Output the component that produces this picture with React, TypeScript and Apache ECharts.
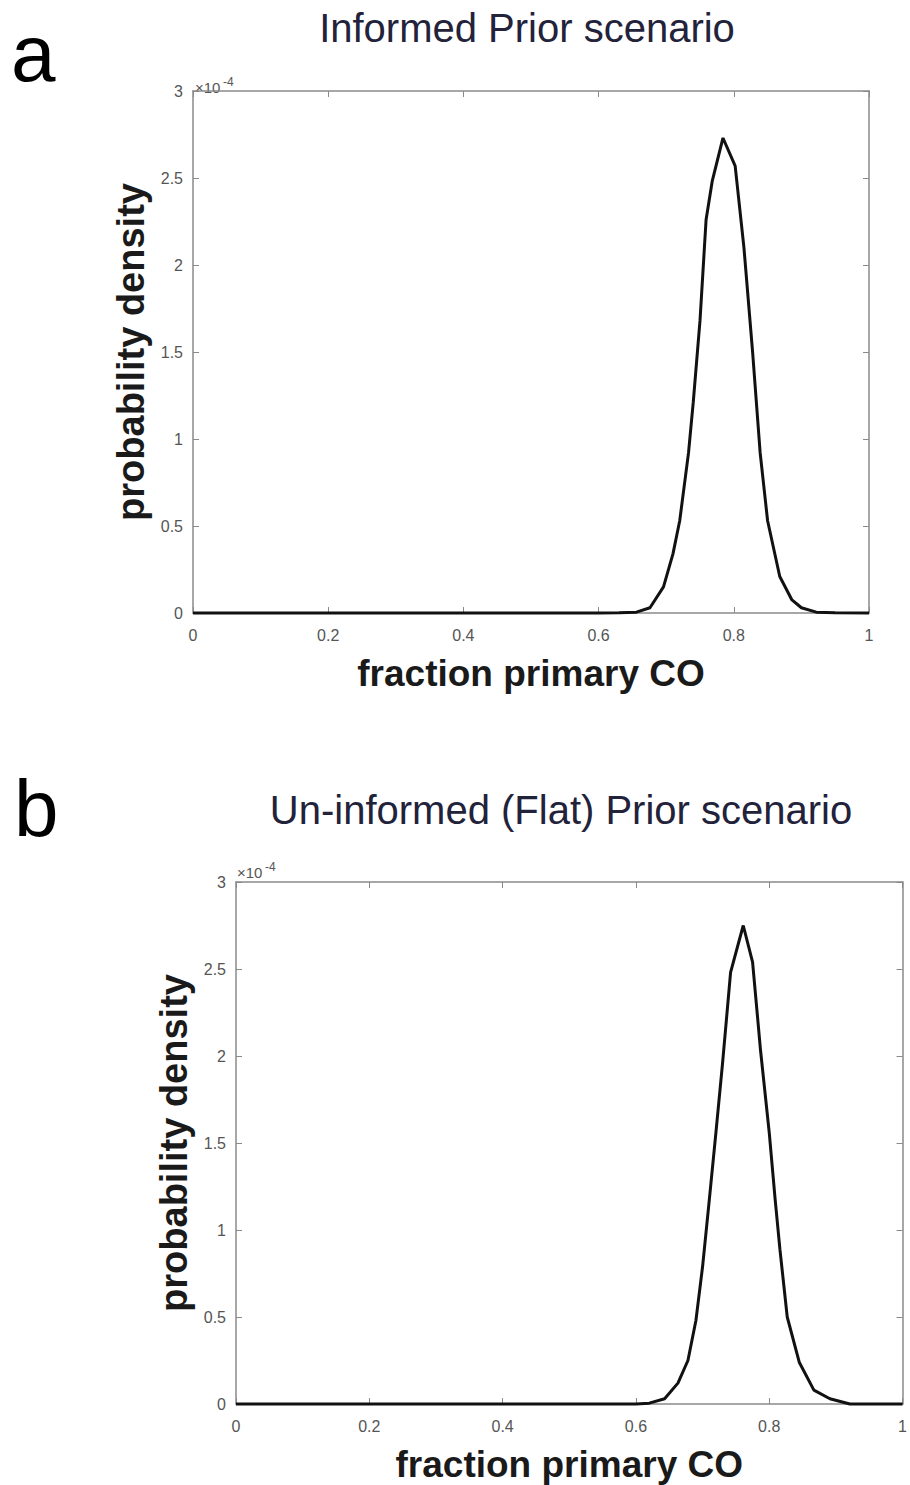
import React, { useEffect, useRef } from "react";
import * as echarts from "echarts";

// Panel a: Informed Prior scenario (x = fraction primary CO, y in units of 1e-4)
const topX = [0, 0.2, 0.4, 0.6, 0.63, 0.656, 0.676, 0.696, 0.71, 0.72, 0.733, 0.74, 0.75, 0.759, 0.768, 0.784, 0.802, 0.815, 0.828, 0.839, 0.85, 0.868, 0.886, 0.9, 0.922, 0.95, 1];
const topY = [0, 0, 0, 0, 0.001, 0.005, 0.03, 0.15, 0.34, 0.53, 0.92, 1.21, 1.68, 2.26, 2.48, 2.73, 2.57, 2.1, 1.49, 0.92, 0.53, 0.21, 0.075, 0.03, 0.005, 0.001, 0];

// Panel b: Un-informed (Flat) Prior scenario
const botX = [0, 0.2, 0.4, 0.6, 0.62, 0.643, 0.663, 0.678, 0.69, 0.7, 0.71, 0.72, 0.73, 0.742, 0.761, 0.775, 0.787, 0.8, 0.809, 0.816, 0.827, 0.845, 0.867, 0.891, 0.921, 1];
const botY = [0, 0, 0, 0, 0.005, 0.03, 0.12, 0.25, 0.48, 0.79, 1.17, 1.56, 1.96, 2.48, 2.75, 2.54, 2.03, 1.56, 1.17, 0.89, 0.5, 0.24, 0.08, 0.03, 0, 0];

const titles = ["Informed Prior scenario", "Un-informed (Flat) Prior scenario"];
const panelLabels = ["a", "b"];
const xName = "fraction primary CO";
const yName = "probability density";
const xTicks = { min: 0, max: 1, interval: 0.2 };
const yTicks = { min: 0, max: 3, interval: 0.5 };
const expText = "×10";
const expSup = "-4";

const FONT = "'Liberation Sans', Arial, sans-serif";
const AXIS_COLOR = "#8a8a8a";
const LABEL_COLOR = "#555";

export default function App() {
  const ref = useRef<HTMLDivElement>(null);
  useEffect(() => {
    if (!ref.current) return;
    const chart = echarts.init(ref.current, null, { renderer: "svg" });
    const grids = [
      { left: 193, top: 91, width: 676, height: 522 },
      { left: 236, top: 882, width: 670, height: 522 },
    ];
    const xAxes: any[] = [];
    const yAxes: any[] = [];
    grids.forEach((_, i) => {
      xAxes.push({
        type: "value", gridIndex: i, position: "bottom", ...xTicks,
        name: xName, nameLocation: "middle", nameGap: 42,
        nameTextStyle: { fontFamily: FONT, fontSize: 37, fontWeight: "bold", color: "#1a1a1a" },
        axisLine: { show: true, onZero: false, lineStyle: { color: AXIS_COLOR, width: 1.5 } },
        axisTick: { show: true, inside: true, length: 6, lineStyle: { color: AXIS_COLOR } },
        axisLabel: { fontFamily: FONT, fontSize: 16, color: LABEL_COLOR, margin: 14 },
        splitLine: { show: false },
      });
      xAxes.push({
        type: "value", gridIndex: i, position: "top", ...xTicks,
        axisLine: { show: true, onZero: false, lineStyle: { color: AXIS_COLOR, width: 1.5 } },
        axisTick: { show: true, inside: true, length: 6, lineStyle: { color: AXIS_COLOR } },
        axisLabel: { show: false },
        splitLine: { show: false },
      });
      yAxes.push({
        type: "value", gridIndex: i, position: "left", ...yTicks,
        name: yName, nameLocation: "middle", nameGap: 42, nameRotate: 90,
        nameTextStyle: { fontFamily: FONT, fontSize: 38, fontWeight: "bold", color: "#1a1a1a" },
        axisLine: { show: true, onZero: false, lineStyle: { color: AXIS_COLOR, width: 1.5 } },
        axisTick: { show: true, inside: true, length: 6, lineStyle: { color: AXIS_COLOR } },
        axisLabel: { fontFamily: FONT, fontSize: 16, color: LABEL_COLOR, margin: 10 },
        splitLine: { show: false },
      });
      yAxes.push({
        type: "value", gridIndex: i, position: "right", ...yTicks,
        axisLine: { show: true, onZero: false, lineStyle: { color: AXIS_COLOR, width: 1.5 } },
        axisTick: { show: true, inside: true, length: 6, lineStyle: { color: AXIS_COLOR } },
        axisLabel: { show: false },
        splitLine: { show: false },
      });
    });

    const mk = (xs: number[], ys: number[]) => xs.map((x, k) => [x, ys[k]]);

    const option: any = {
      animation: false,
      backgroundColor: "#fff",
      title: [
        { text: titles[0], left: 527, top: 8, textAlign: "center", padding: 0,
          textStyle: { fontFamily: FONT, fontSize: 40, fontWeight: "normal", color: "#22223a" } },
        { text: titles[1], left: 561, top: 790, textAlign: "center", padding: 0,
          textStyle: { fontFamily: FONT, fontSize: 40, fontWeight: "normal", color: "#22223a" } },
      ],
      grid: grids,
      xAxis: xAxes,
      yAxis: yAxes,
      series: [
        { type: "line", xAxisIndex: 0, yAxisIndex: 0, data: mk(topX, topY), symbol: "none", clip: false,
          lineStyle: { color: "#111", width: 3 }, z: 5 },
        { type: "line", xAxisIndex: 2, yAxisIndex: 2, data: mk(botX, botY), symbol: "none", clip: false,
          lineStyle: { color: "#111", width: 3 }, z: 5 },
      ],
      graphic: [
        { type: "text", x: 11, y: 93, style: { text: panelLabels[0], font: `80px ${FONT}`, fill: "#000", textVerticalAlign: "bottom", verticalAlign: "bottom" } },
        { type: "text", x: 14, y: 848, style: { text: panelLabels[1], font: `80px ${FONT}`, fill: "#000", textVerticalAlign: "bottom", verticalAlign: "bottom" } },
        { type: "text", x: 195, y: 95, style: { text: expText, font: `15px ${FONT}`, fill: LABEL_COLOR, textVerticalAlign: "bottom", verticalAlign: "bottom" } },
        { type: "text", x: 223, y: 88, style: { text: expSup, font: `12px ${FONT}`, fill: LABEL_COLOR, textVerticalAlign: "bottom", verticalAlign: "bottom" } },
        { type: "text", x: 237, y: 880, style: { text: expText, font: `15px ${FONT}`, fill: LABEL_COLOR, textVerticalAlign: "bottom", verticalAlign: "bottom" } },
        { type: "text", x: 265, y: 873, style: { text: expSup, font: `12px ${FONT}`, fill: LABEL_COLOR, textVerticalAlign: "bottom", verticalAlign: "bottom" } },
      ],
    };
    chart.setOption(option);
    return () => chart.dispose();
  }, []);
  return (
    <div
      ref={ref}
      style={{ position: "absolute", left: 0, top: 0, width: 910, height: 1485, background: "#fff" }}
    />
  );
}
